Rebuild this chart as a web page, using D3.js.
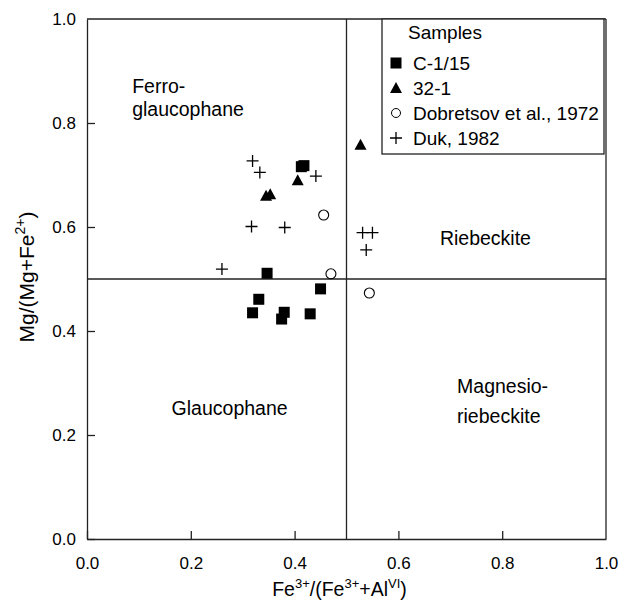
<!DOCTYPE html>
<html>
<head>
<meta charset="utf-8">
<script src="https://cdn.jsdelivr.net/npm/d3@7"></script>
<style>
  body { margin: 0; background: #fff; }
  svg text { font-family: "Liberation Sans", Arial, sans-serif; fill: #000; }
</style>
</head>
<body>
<div id="chart"></div>
<script>
// Amphibole classification plot
const xTicks = [0, 0.2, 0.4, 0.6, 0.8, 1.0];
const yTicks = [0, 0.2, 0.4, 0.6, 0.8, 1.0];

const seriesNames = ["C-1/15", "32-1", "Dobretsov et al., 1972", "Duk, 1982"];

const c115X = [0.413, 0.418, 0.347, 0.450, 0.331, 0.319, 0.380, 0.375, 0.430];
const c115Y = [0.716, 0.718, 0.511, 0.481, 0.461, 0.435, 0.436, 0.423, 0.433];

const s321X = [0.406, 0.345, 0.353, 0.527];
const s321Y = [0.690, 0.660, 0.663, 0.758];

const dobX = [0.456, 0.470, 0.544];
const dobY = [0.623, 0.510, 0.473];

const dukX = [0.319, 0.333, 0.441, 0.317, 0.381, 0.531, 0.550, 0.538, 0.260];
const dukY = [0.727, 0.705, 0.698, 0.601, 0.599, 0.589, 0.589, 0.556, 0.519];

const regions = [
  { lines: ["Ferro-", "glaucophane"], x: 0.087, y: 0.857, gap: 23 },
  { lines: ["Riebeckite"], x: 0.68, y: 0.565, gap: 0 },
  { lines: ["Glaucophane"], x: 0.163, y: 0.238, gap: 0 },
  { lines: ["Magnesio-", "riebeckite"], x: 0.713, y: 0.28, gap: 30 }
];

(function () {
  const W = 623, H = 601;
  const margin = { top: 19, right: 17, bottom: 62, left: 87 };
  const width = W - margin.left - margin.right;
  const height = H - margin.top - margin.bottom;

  const svg = d3.select("#chart").append("svg")
    .attr("width", W).attr("height", H);
  const g = svg.append("g")
    .attr("transform", `translate(${margin.left},${margin.top})`);

  const x = d3.scaleLinear().domain([0, 1]).range([0, width]);
  const y = d3.scaleLinear().domain([0, 1]).range([height, 0]);

  // axes with inward ticks
  const xAxis = g.append("g")
    .attr("transform", `translate(0,${height})`)
    .call(d3.axisBottom(x).tickValues(xTicks).tickFormat(d3.format(".1f"))
      .tickSizeInner(-8).tickSizeOuter(0).tickPadding(18));
  const yAxis = g.append("g")
    .call(d3.axisLeft(y).tickValues(yTicks).tickFormat(d3.format(".1f"))
      .tickSizeInner(-8).tickSizeOuter(0).tickPadding(11));
  [xAxis, yAxis].forEach(a => {
    a.selectAll("text").style("font-size", "17px").style("font-family", "Liberation Sans, Arial, sans-serif");
    a.selectAll("line, path").attr("stroke", "#222").attr("stroke-width", 1.3);
  });
  xAxis.selectAll(".tick:first-child line, .tick:last-child line").remove();
  yAxis.selectAll(".tick:first-child line, .tick:last-child line").remove();

  // frame and dividing lines
  const frame = [
    [0, 1, 1, 1], [1, 1, 1, 0],
    [0.5, 0, 0.5, 1], [0, 0.5, 1, 0.5]
  ];
  g.selectAll(".frame").data(frame).join("line")
    .attr("x1", d => x(d[0])).attr("y1", d => y(d[1]))
    .attr("x2", d => x(d[2])).attr("y2", d => y(d[3]))
    .attr("stroke", "#222").attr("stroke-width", 1.3);

  // region labels
  regions.forEach(r => {
    const t = g.append("text")
      .attr("x", x(r.x)).attr("y", y(r.y))
      .style("font-size", "19.5px");
    r.lines.forEach((ln, i) => {
      t.append("tspan").attr("x", x(r.x)).attr("dy", i === 0 ? 0 : r.gap).text(ln);
    });
  });

  // symbols
  function drawSym(sel, kind) {
    if (kind === 0) {
      sel.append("rect").attr("x", -5.5).attr("y", -5.5).attr("width", 11).attr("height", 11).attr("fill", "#000");
    } else if (kind === 1) {
      sel.append("path").attr("d", "M0,-6L6,5L-6,5Z").attr("fill", "#000");
    } else if (kind === 2) {
      sel.append("circle").attr("r", 5).attr("fill", "none").attr("stroke", "#000").attr("stroke-width", 1.1);
    } else {
      sel.append("path").attr("d", "M-6,0H6M0,-6V6").attr("stroke", "#000").attr("stroke-width", 1.3);
    }
  }

  const sets = [[c115X, c115Y], [s321X, s321Y], [dobX, dobY], [dukX, dukY]];
  sets.forEach(([xs, ys], k) => {
    xs.forEach((v, i) => {
      const p = g.append("g").attr("transform", `translate(${x(v)},${y(ys[i])})`);
      drawSym(p, k);
    });
  });

  // legend
  const lg = svg.append("g").attr("transform", "translate(382,19)");
  lg.append("rect").attr("width", 222).attr("height", 135)
    .attr("fill", "#fff").attr("stroke", "#222").attr("stroke-width", 1.3);
  lg.append("text").attr("x", 26).attr("y", 20).style("font-size", "19px").text("Samples");
  seriesNames.forEach((name, i) => {
    const row = lg.append("g").attr("transform", `translate(14,${44 + i * 25})`);
    const s = row.append("g").attr("transform", i === 2 ? "scale(0.9)" : null);
    drawSym(s, i);
    row.append("text").attr("x", 17).attr("y", 7).style("font-size", "19px").text(name);
  });

  // axis titles
  const xt = svg.append("text")
    .attr("x", margin.left + width / 2 - 7).attr("y", 596)
    .attr("text-anchor", "middle").style("font-size", "19.5px");
  xt.append("tspan").text("Fe");
  xt.append("tspan").attr("dy", -8).style("font-size", "13px").text("3+");
  xt.append("tspan").attr("dy", 8).text("/(Fe");
  xt.append("tspan").attr("dy", -8).style("font-size", "13px").text("3+");
  xt.append("tspan").attr("dy", 8).text("+Al");
  xt.append("tspan").attr("dy", -8).style("font-size", "13px").text("VI");
  xt.append("tspan").attr("dy", 8).text(")");

  const yt = svg.append("text")
    .attr("transform", `translate(34,277) rotate(-90)`)
    .attr("text-anchor", "middle").style("font-size", "21px");
  yt.append("tspan").text("Mg/(Mg+Fe");
  yt.append("tspan").attr("dy", -9).style("font-size", "14px").text("2+");
  yt.append("tspan").attr("dy", 9).text(")");
})();
</script>
</body>
</html>
